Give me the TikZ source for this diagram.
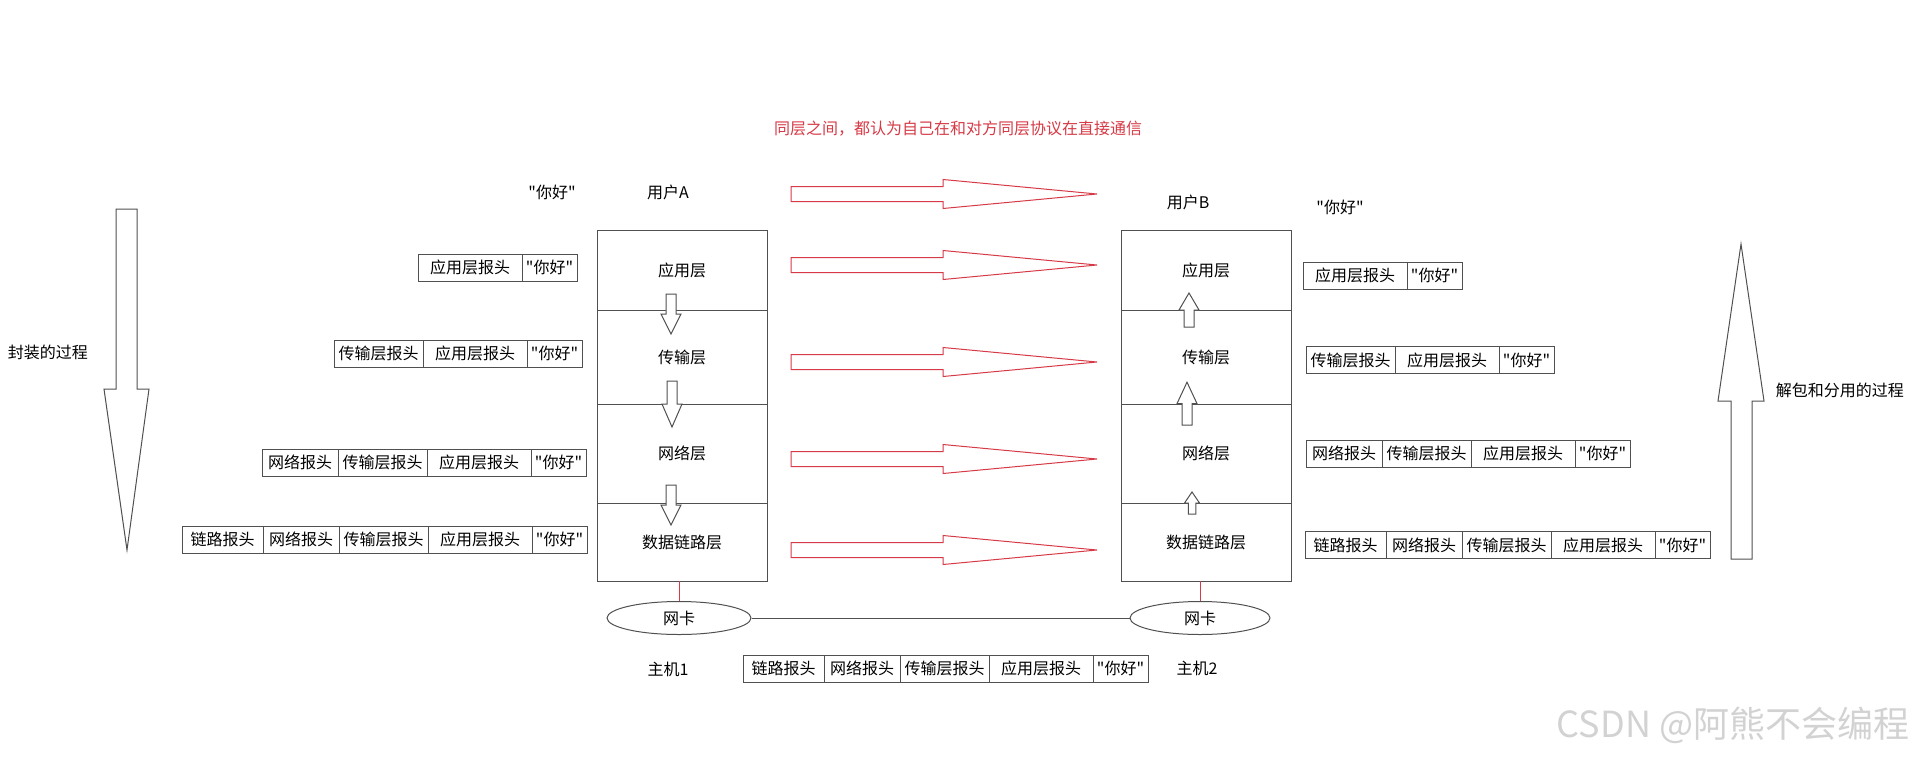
\documentclass[tikz,border=0pt]{standalone}
\usepackage{fontspec}
\newfontfamily\cjk{Noto Sans CJK SC}
\usepackage{tikz}
\usetikzlibrary{shapes}
\usetikzlibrary{shapes.geometric}
\usetikzlibrary{positioning}

\definecolor{peerred}{RGB}{214,58,70}
\definecolor{linegray}{RGB}{80,80,80}

\tikzset{
  layer/.style={draw=linegray, minimum width=170pt, inner sep=0pt, outer sep=0pt},
  pkt/.style={draw=linegray, minimum height=27pt, inner sep=0pt, outer sep=0pt},
  linkhdr/.style={pkt, minimum width=81pt},
  nethdr/.style={pkt, minimum width=76pt},
  tranhdr/.style={pkt, minimum width=89pt},
  apphdr/.style={pkt, minimum width=104pt},
  msgbox/.style={pkt, minimum width=55pt},
  nic/.style={ellipse, draw=linegray, minimum height=33pt, inner sep=0pt},
  peerarrow/.pic={
    \draw[peerred] (0,-7.5) -- (152,-7.5) -- (152,-14.5) -- (306,0)
      -- (152,14.5) -- (152,7.5) -- (0,7.5) -- cycle;
  },
  stackarrow/.pic={
    \draw[linegray, fill=white] (-5,0) -- (5,0) -- (5,20) -- (10,20) -- (0,40)
      -- (-10,20) -- (-5,20) -- cycle;
  },
}

\begin{document}
\begin{tikzpicture}[x=1pt, y=-1pt, line width=1pt,
    every node/.style={font=\cjk\fontsize{16}{19}\selectfont}]
  \useasboundingbox (0,0) rectangle (1920,761);

  \node[text=peerred] (title) at (958,129) {同层之间，都认为自己在和对方同层协议在直接通信};

  % host 1
  \node (msgA) at (552,192) {"你好"};
  \node (userA) at (668,192) {用户A};
  \node[layer, minimum height=80pt] (appA) at (682,270) {应用层};
  \node[layer, minimum height=94pt, below=0pt of appA] (tranA) {传输层};
  \node[layer, minimum height=99pt, below=0pt of tranA] (netA) {网络层};
  \node[layer, minimum height=78pt, below=0pt of netA] (linkA) {数据链路层};
  \pic at (671,294) {stackarrow};
  \pic[yscale=1.15] at (672,381) {stackarrow};
  \pic at (671,485) {stackarrow};

  % host 2
  \node (userB) at (1188,202) {用户B};
  \node (msgB) at (1340,207) {"你好"};
  \node[layer, minimum height=80pt] (appB) at (1206,270) {应用层};
  \node[layer, minimum height=94pt, below=0pt of appB] (tranB) {传输层};
  \node[layer, minimum height=99pt, below=0pt of tranB] (netB) {网络层};
  \node[layer, minimum height=78pt, below=0pt of netB] (linkB) {数据链路层};
  \pic[yscale=-0.85] at (1189,327) {stackarrow};
  \pic[yscale=-1.07] at (1187,425) {stackarrow};
  \pic[xscale=0.75, yscale=-0.55] at (1192,514) {stackarrow};

  % peer layers
  \foreach \y in {194,265,362,459,550}
    \pic at (791,\y) {peerarrow};

  % encapsulation, left
  \node[msgbox, anchor=east] (encMsg1) at (577,267.5) {"你好"};
  \node[apphdr, left=0pt of encMsg1] (encApp1) {应用层报头};

  \node[msgbox, anchor=east] (encMsg2) at (582,353.5) {"你好"};
  \node[apphdr, left=0pt of encMsg2] (encApp2) {应用层报头};
  \node[tranhdr, left=0pt of encApp2] (encTran2) {传输层报头};

  \node[msgbox, anchor=east] (encMsg3) at (586,462.5) {"你好"};
  \node[apphdr, left=0pt of encMsg3] (encApp3) {应用层报头};
  \node[tranhdr, left=0pt of encApp3] (encTran3) {传输层报头};
  \node[nethdr, left=0pt of encTran3] (encNet3) {网络报头};

  \node[msgbox, anchor=east] (encMsg4) at (587,539.5) {"你好"};
  \node[apphdr, left=0pt of encMsg4] (encApp4) {应用层报头};
  \node[tranhdr, left=0pt of encApp4] (encTran4) {传输层报头};
  \node[nethdr, left=0pt of encTran4] (encNet4) {网络报头};
  \node[linkhdr, left=0pt of encNet4] (encLink4) {链路报头};

  % decapsulation, right
  \node[apphdr, anchor=west] (decApp1) at (1303,275.5) {应用层报头};
  \node[msgbox, right=0pt of decApp1] (decMsg1) {"你好"};

  \node[tranhdr, anchor=west] (decTran2) at (1306,360) {传输层报头};
  \node[apphdr, right=0pt of decTran2] (decApp2) {应用层报头};
  \node[msgbox, right=0pt of decApp2] (decMsg2) {"你好"};

  \node[nethdr, anchor=west] (decNet3) at (1306,453.5) {网络报头};
  \node[tranhdr, right=0pt of decNet3] (decTran3) {传输层报头};
  \node[apphdr, right=0pt of decTran3] (decApp3) {应用层报头};
  \node[msgbox, right=0pt of decApp3] (decMsg3) {"你好"};

  \node[linkhdr, anchor=west] (decLink4) at (1305,545) {链路报头};
  \node[nethdr, right=0pt of decLink4] (decNet4) {网络报头};
  \node[tranhdr, right=0pt of decNet4] (decTran4) {传输层报头};
  \node[apphdr, right=0pt of decTran4] (decApp4) {应用层报头};
  \node[msgbox, right=0pt of decApp4] (decMsg4) {"你好"};

  % wire
  \node[nic, minimum width=144pt] (nicA) at (679,618) {网卡};
  \node[nic, minimum width=140pt] (nicB) at (1200,618) {网卡};
  \draw[peerred] (nicA.north |- linkA.south) -- (nicA.north);
  \draw[peerred] (nicB.north |- linkB.south) -- (nicB.north);
  \draw[linegray] (nicA.east) -- (nicB.west);
  \node (hostA) at (668,669) {主机1};
  \node (hostB) at (1197,668) {主机2};

  \node[linkhdr, anchor=west] (wireLink) at (743,668.5) {链路报头};
  \node[nethdr, right=0pt of wireLink] (wireNet) {网络报头};
  \node[tranhdr, right=0pt of wireNet] (wireTran) {传输层报头};
  \node[apphdr, right=0pt of wireTran] (wireApp) {应用层报头};
  \node[msgbox, right=0pt of wireApp] (wireMsg) {"你好"};

  % big process arrows
  \draw[linegray] (116,209) -- (137,209) -- (137,389) -- (149,389) -- (127,550)
    -- (104,389) -- (116,389) -- cycle;
  \node (encap) at (48,352) {封装的过程};
  \draw[linegray] (1731,559) -- (1731,401) -- (1718,401) -- (1741,244)
    -- (1764,401) -- (1752,401) -- (1752,559) -- cycle;
  \node[anchor=west] (decap) at (1772,390) {解包和分用的过程};

  \node[anchor=east, text=gray!35, font=\cjk\fontsize{36}{40}\selectfont] (mark) at (1913,725) {CSDN @阿熊不会编程};
\end{tikzpicture}
\end{document}
